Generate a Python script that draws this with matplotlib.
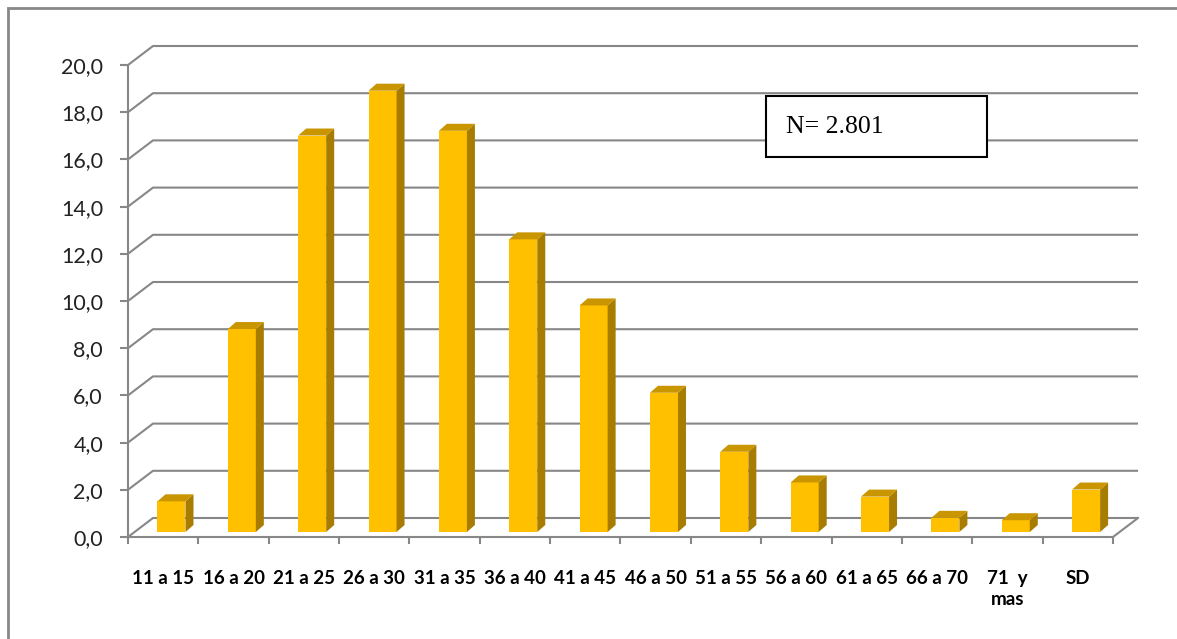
import matplotlib
matplotlib.use('Agg')
import matplotlib.pyplot as plt
from matplotlib.patches import Polygon, Rectangle
import numpy as np

# data
categories = ['11 a 15', '16 a 20', '21 a 25', '26 a 30', '31 a 35', '36 a 40', '41 a 45',
              '46 a 50', '51 a 55', '56 a 60', '61 a 65', '66 a 70', '71  y\nmas', 'SD']
values = [1.3, 8.6, 16.8, 18.7, 17.0, 12.4, 9.6, 5.9, 3.4, 2.1, 1.5, 0.6, 0.5, 1.8]
yticks = [0, 2, 4, 6, 8, 10, 12, 14, 16, 18, 20]
note = 'N= 2.801'

W, H = 1177, 639
fig = plt.figure(figsize=(W / 100, H / 100), dpi=100)

# front plot area in pixels
x0, x1 = 128, 1113
y0, y1 = 537, 65
ax = fig.add_axes([x0 / W, 1 - y0 / H, (x1 - x0) / W, (y0 - y1) / H])
n = len(categories)
ax.set_xlim(-0.5, n - 0.5)
ax.set_ylim(0, 20)
sx = (x1 - x0) / n          # px per category
sy = (y0 - y1) / 20.0       # px per unit

grid_c = '#878787'
# depth of back wall (px -> data)
DX, DY = 25 / sx, 19 / sy

# back wall gridlines and left wall diagonals
for v in yticks:
    ax.plot([-0.5, -0.5 + DX, n - 0.5 + DX], [v, v + DY, v + DY],
            color=grid_c, lw=1.5, clip_on=False, zorder=1, solid_capstyle='butt')
# floor
ax.plot([n - 0.5, n - 0.5 + DX], [0, DY], color=grid_c, lw=1.5, clip_on=False, zorder=1)
ax.plot([-0.5, n - 0.5], [0, 0], color=grid_c, lw=1.5, clip_on=False, zorder=2)
ax.plot([-0.5, -0.5], [0, 20], color=grid_c, lw=1.5, clip_on=False, zorder=2)

# bars with fake 3d faces
bx, by = 8.3 / sx, 5 / sy      # front face offset
dx, dy = 8 / sx, 7 / sy        # bar depth
bw = 28 / sx
xs = np.arange(n)
ax.bar(xs + bx, values, width=bw, bottom=by, color='#FFC000', edgecolor='none', zorder=3)
for xi, v in zip(xs, values):
    l = xi + bx - bw / 2
    r = xi + bx + bw / 2
    t = by + v
    side = Polygon([(r, by), (r + dx, by + dy), (r + dx, t + dy), (r, t)],
                   closed=True, facecolor='#A87C00', edgecolor='none', zorder=3)
    top = Polygon([(l, t), (l + dx, t + dy), (r + dx, t + dy), (r, t)],
                  closed=True, facecolor='#C99500', edgecolor='none', zorder=3)
    ax.add_patch(side)
    ax.add_patch(top)

for s in ax.spines.values():
    s.set_visible(False)
ax.set_yticks(yticks)
ax.set_yticklabels([('%.1f' % v).replace('.', ',') for v in yticks],
                   family='Lato', fontsize=15.5, color='#222222')
ax.tick_params(axis='y', length=6, width=1.5, color=grid_c, pad=12)
ax.set_xticks(np.arange(-0.5, n, 1.0))
ax.set_xticklabels([])
ax.tick_params(axis='x', length=5, width=1.5, color=grid_c)
for xi, lab in zip(xs, categories):
    ax.text(xi, -1.4, lab, ha='center', va='top', family='Lato', fontweight='bold',
            fontsize=13.5, linespacing=1.3, color='black', clip_on=False)

# N box
fig.patches.append(Rectangle((766 / W, 1 - 157 / H), (987 - 766) / W, (157 - 96) / H,
                             transform=fig.transFigure, facecolor='white',
                             edgecolor='black', lw=1.5, zorder=5))
fig.text(786 / W, 1 - 127 / H, note, family='Liberation Serif', fontsize=18.5,
         va='center', ha='left', zorder=6)

# outer frame
fig.patches.append(Rectangle((8 / W, -0.1), 1.2, 1 - 8 / H + 0.1, transform=fig.transFigure,
                             facecolor='none', edgecolor='#888888', lw=2, zorder=0))

fig.savefig('out.png', dpi=100)
